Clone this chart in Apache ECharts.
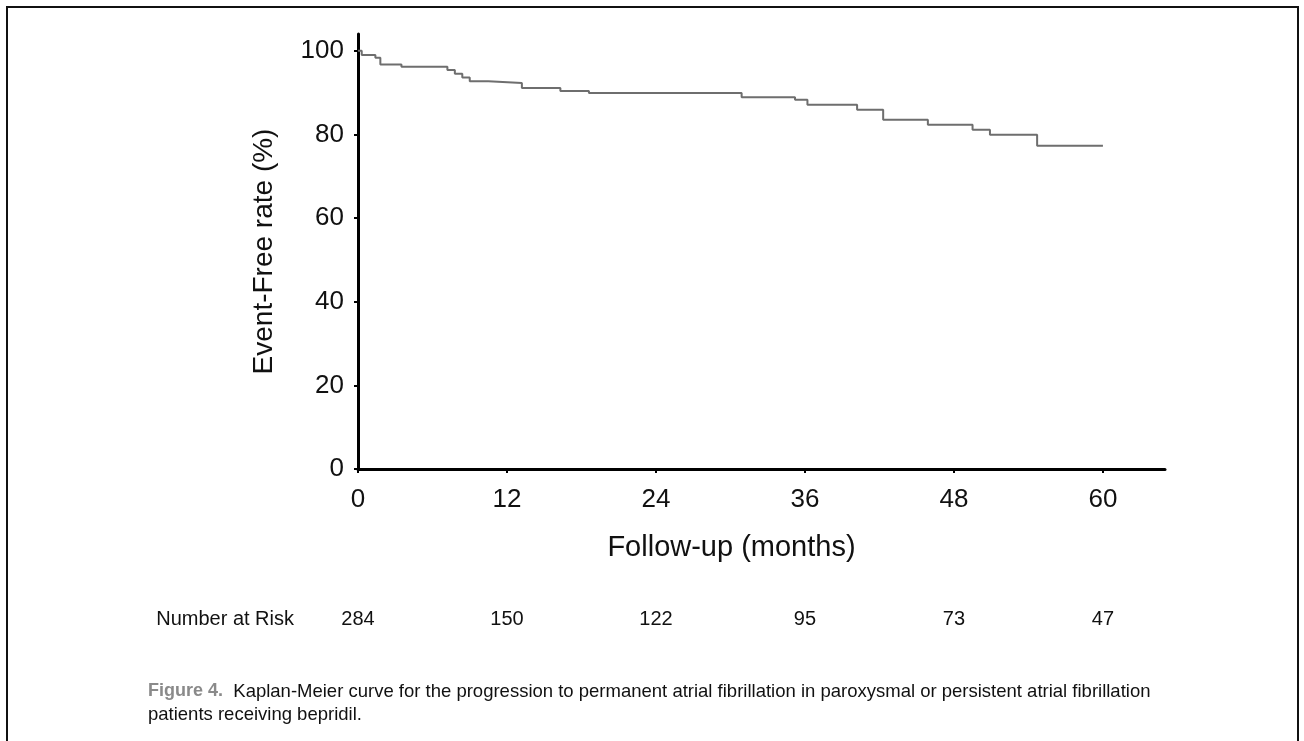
<!DOCTYPE html>
<html>
<head>
<meta charset="utf-8">
<title>Figure 4 - Kaplan-Meier</title>
<script src="https://cdn.jsdelivr.net/npm/echarts@6/dist/echarts.min.js"></script>
<style>
  html, body { margin: 0; padding: 0; background: #fff; }
  #chart { width: 1304px; height: 741px; }
</style>
</head>
<body>
<div id="chart"></div>
<script>
// Kaplan-Meier step curve
const months = [0, 0.3, 1.4, 1.8, 3.5, 7.2, 7.8, 8.4, 9.0, 10.5, 13.2, 16.3, 18.6, 30.9, 35.2, 36.2, 40.2, 42.3, 45.9, 49.5, 50.9, 54.7, 60];
const eventFree = [100, 99.0, 98.3, 96.7, 96.2, 95.4, 94.5, 93.6, 92.7, 92.3, 91.1, 90.4, 89.9, 88.9, 88.3, 87.1, 85.9, 83.5, 82.3, 81.1, 79.9, 77.3, 77.3];

const xTicks = [0, 12, 24, 36, 48, 60];
const yTicks = [0, 20, 40, 60, 80, 100];
const atRisk = [284, 150, 122, 95, 73, 47];

const captionHead = 'Figure 4.';
const captionLine1 = 'Kaplan-Meier curve for the progression to permanent atrial fibrillation in paroxysmal or persistent atrial fibrillation';
const captionLine2 = 'patients receiving bepridil.';

const FONT = '"Liberation Sans", Arial, Helvetica, sans-serif';

const chart = echarts.init(document.getElementById('chart'), null, { renderer: 'canvas' });

const option = {
  animation: false,
  backgroundColor: '#fff',
  grid: { left: 358, top: 34, width: 807, height: 435, containLabel: false },
  xAxis: [
    {
      type: 'value',
      min: 0,
      max: 65,
      name: 'Follow-up (months)',
      nameLocation: 'middle',
      nameGap: 64,
      // pad right so the title sits over the 0-60 range like the original
      nameTextStyle: { fontFamily: FONT, fontSize: 29, color: '#111', padding: [0, 60, 0, 0] },
      axisLine: { onZero: false, lineStyle: { color: '#000', width: 3 } },
      axisTick: { show: true, length: 4, lineStyle: { color: '#000', width: 2 }, customValues: xTicks },
      axisLabel: { fontFamily: FONT, fontSize: 26, color: '#111', margin: 18, customValues: xTicks },
      splitLine: { show: false }
    },
    {
      // second bottom axis carries the number-at-risk row
      type: 'value',
      min: 0,
      max: 65,
      position: 'bottom',
      offset: 150,
      axisLine: { show: false },
      axisTick: { show: false },
      axisLabel: {
        fontFamily: FONT, fontSize: 20, color: '#111', margin: 0, verticalAlign: 'middle',
        customValues: xTicks,
        formatter: v => {
          const i = xTicks.indexOf(v);
          return i >= 0 ? String(atRisk[i]) : '';
        }
      },
      splitLine: { show: false }
    }
  ],
  yAxis: {
    type: 'value',
    min: 0,
    max: 104,
    name: 'Event-Free rate (%)',
    nameLocation: 'middle',
    nameGap: 80,
    nameRotate: 90,
    nameTextStyle: { fontFamily: FONT, fontSize: 28, color: '#111' },
    axisLine: { show: true, lineStyle: { color: '#000', width: 3 } },
    axisTick: { show: true, length: 4, lineStyle: { color: '#000', width: 2 }, customValues: yTicks },
    axisLabel: { fontFamily: FONT, fontSize: 26, color: '#111', margin: 14, customValues: yTicks },
    splitLine: { show: false }
  },
  series: [{
    type: 'line',
    xAxisIndex: 0,
    step: 'end',
    symbol: 'none',
    data: months.map((m, i) => [m, eventFree[i]]),
    lineStyle: { color: '#6e6e6e', width: 2 }
  }],
  graphic: [
    {
      type: 'rect',
      shape: { x: 7, y: 7, width: 1291, height: 760 },
      style: { fill: 'none', stroke: '#111', lineWidth: 2 },
      silent: true
    },
    {
      type: 'text',
      x: 294,
      y: 619,
      style: {
        text: 'Number at Risk',
        fontFamily: FONT,
        fontSize: 20,
        fill: '#111',
        align: 'right',
        verticalAlign: 'middle'
      }
    },
    {
      type: 'text',
      left: 148,
      top: 680,
      style: {
        text: '{h|' + captionHead + '}  ' + captionLine1 + '\n' + captionLine2,
        fontFamily: FONT,
        fontSize: 18.5,
        lineHeight: 23,
        fill: '#111',
        rich: {
          h: { fontFamily: '"Liberation Sans Narrow", "Liberation Sans", Arial, sans-serif', fontWeight: 'bold', fontSize: 18, fill: '#8a8a8a', color: '#8a8a8a' }
        }
      }
    }
  ]
};

chart.setOption(option);
window.addEventListener('resize', () => chart.resize());
</script>
</body>
</html>
